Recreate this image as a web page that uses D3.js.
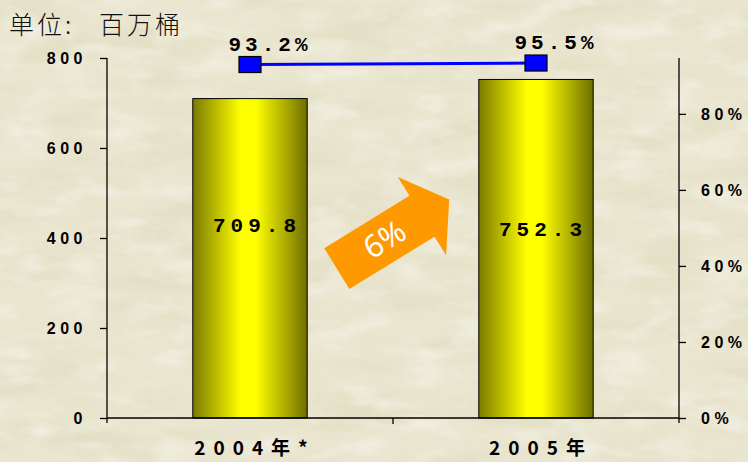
<!DOCTYPE html>
<html><head><meta charset="utf-8">
<script src="https://cdn.jsdelivr.net/npm/d3@7/dist/d3.min.js"></script>
<style>html,body{margin:0;padding:0;background:#e9e4cc;}svg{display:block;}</style>
</head><body>
<svg id="chart" width="748" height="462"></svg>
<script>
const categories = ["2004年*", "2005年"];
const barValues = [709.8, 752.3];
const barLabels = ["709.8", "752.3"];
const lineValues = [0.932, 0.955];
const lineLabels = ["93.2%", "95.5%"];
const leftTicks = [0, 200, 400, 600, 800];
const rightTicks = [0, 0.2, 0.4, 0.6, 0.8];
const growthLabel = "6%";
const unitTitle = ["单位:", "百万桶"];

const svg = d3.select("#chart");
const W = 748, H = 462;
const defs = svg.append("defs");

// parchment texture
const f = defs.append("filter").attr("id","paper").attr("x",0).attr("y",0).attr("width","100%").attr("height","100%");
f.append("feTurbulence").attr("type","fractalNoise").attr("baseFrequency","0.01 0.035").attr("numOctaves",5).attr("seed",11).attr("result","n");
f.append("feColorMatrix").attr("in","n").attr("type","matrix")
 .attr("values","0 0 0 0 0.72  0 0 0 0 0.70  0 0 0 0 0.50  2.2 0 0 0 -1.0");
const f2 = defs.append("filter").attr("id","paper2").attr("x",0).attr("y",0).attr("width","100%").attr("height","100%");
f2.append("feTurbulence").attr("type","fractalNoise").attr("baseFrequency","0.02 0.05").attr("numOctaves",4).attr("seed",3).attr("result","n");
f2.append("feColorMatrix").attr("in","n").attr("type","matrix")
 .attr("values","0 0 0 0 0.97  0 0 0 0 0.96  0 0 0 0 0.93  2.0 0 0 0 -0.95");
svg.append("rect").attr("width",W).attr("height",H).attr("fill","#e9e5cf");
svg.append("rect").attr("width",W).attr("height",H).attr("filter","url(#paper)").attr("opacity",0.6);
svg.append("rect").attr("width",W).attr("height",H).attr("filter","url(#paper2)").attr("opacity",0.6);

const grad = defs.append("linearGradient").attr("id","barGrad").attr("x1","0").attr("x2","1").attr("y1","0").attr("y2","0");
[[0,"#7a7a00"],[0.42,"#ffff00"],[0.55,"#ffff00"],[1,"#6e6e00"]].forEach(([o,c])=>grad.append("stop").attr("offset",o).attr("stop-color",c));

const x0 = 107, x1 = 679, yTop = 58, yBot = 418;
const x = d3.scaleBand().domain(categories).range([x0, x1]).paddingInner(0.6).paddingOuter(0.3);
const xc = d3.scaleBand().domain(categories).range([x0, x1]).padding(0);
const y = d3.scaleLinear().domain([0, 800]).range([yBot, yTop]);
const yR = d3.scaleLinear().domain([0, 0.947]).range([yBot, yTop]);
const yLine = d3.scaleLinear().domain([0.9, 1.0]).range([66.6, 60.1]);

// bars
svg.selectAll("rect.bar").data(barValues).join("rect").attr("class","bar")
 .attr("x",(d,i)=>x(categories[i])).attr("width",x.bandwidth())
 .attr("y",d=>y(d)).attr("height",d=>y(0)-y(d))
 .attr("fill","url(#barGrad)").attr("stroke","#000").attr("stroke-width",1);

// axes
const axisStyle = g => { g.selectAll("path,line").attr("stroke","#000").attr("stroke-width",1.3); g.select(".domain").remove(); };
const tickFont = sel => sel.attr("font-family","Liberation Sans, Arial").attr("font-weight","bold").attr("font-size",16).attr("letter-spacing","4.5px").attr("fill","#000");
const lAx = svg.append("g").attr("transform",`translate(${x0},0)`)
 .call(d3.axisLeft(y).tickValues(leftTicks).tickSize(7).tickFormat(d3.format("d")));
lAx.call(axisStyle);
lAx.selectAll("text").attr("x",-20).call(tickFont);
svg.append("line").attr("x1",x0).attr("x2",x0).attr("y1",yTop).attr("y2",yBot+5).attr("stroke","#000").attr("stroke-width",1.3);

const rAx = svg.append("g").attr("transform",`translate(${x1},0)`)
 .call(d3.axisRight(yR).tickValues(rightTicks).tickSize(7).tickFormat(d3.format(".0%")));
rAx.call(axisStyle);
rAx.selectAll("text").attr("x",22).call(tickFont);
svg.append("line").attr("x1",x1).attr("x2",x1).attr("y1",yTop).attr("y2",yBot+5).attr("stroke","#000").attr("stroke-width",1.3);

// x axis
svg.append("line").attr("x1",x0).attr("x2",x1).attr("y1",yBot).attr("y2",yBot).attr("stroke","#000").attr("stroke-width",1.3);
svg.selectAll("line.xt").data(categories.slice(1)).join("line").attr("class","xt")
 .attr("x1",d=>xc(d)).attr("x2",d=>xc(d)).attr("y1",yBot).attr("y2",yBot+6).attr("stroke","#000").attr("stroke-width",1.3);
svg.selectAll("text.xl").data(categories).join("text").attr("class","xl")
 .attr("x",d=>x(d)+x.bandwidth()/2+5).attr("y",455).attr("text-anchor","middle")
 .attr("font-family","Noto Sans CJK SC, Liberation Sans").attr("font-weight","bold").attr("font-size",19).attr("letter-spacing","8px")
 .attr("fill","#000").text(d=>d);

// bar labels
svg.selectAll("text.bl").data(barValues).join("text").attr("class","bl")
 .attr("x",(d,i)=>x(categories[i])+x.bandwidth()/2+7).attr("y",(d,i)=>y(430)+7+i*4).attr("text-anchor","middle")
 .attr("font-family","Liberation Mono, Courier New, monospace").attr("font-weight","bold").attr("font-size",21).attr("letter-spacing","5px")
 .attr("fill","#000").text((d,i)=>barLabels[i]);

// line + markers
const lx = (d,i)=>x(categories[i])+x.bandwidth()/2;
svg.append("path").datum(lineValues)
 .attr("d", d3.line().x(lx).y(d=>yLine(d)))
 .attr("fill","none").attr("stroke","#0000ff").attr("stroke-width",3);
svg.selectAll("rect.mk").data(lineValues).join("rect").attr("class","mk")
 .attr("x",(d,i)=>lx(d,i)-11).attr("y",d=>yLine(d)-8).attr("width",22).attr("height",16)
 .attr("fill","#0000ff").attr("stroke","#000").attr("stroke-width",1.2);
svg.selectAll("text.ll").data(lineValues).join("text").attr("class","ll")
 .attr("x",(d,i)=>lx(d,i)+20).attr("y",d=>yLine(d)-14).attr("text-anchor","middle")
 .attr("font-family","Liberation Mono, Courier New, monospace").attr("font-weight","bold").attr("font-size",21).attr("letter-spacing","4px")
 .attr("fill","#000").text((d,i)=>lineLabels[i]);

// title
const tt = svg.append("text").attr("y",34).attr("font-family","Noto Sans CJK SC").attr("font-weight",300)
 .attr("font-size",25).attr("letter-spacing","3px").attr("fill","#111");
tt.append("tspan").attr("x",9).text(unitTitle[0]);
tt.append("tspan").attr("x",99).text(unitTitle[1]);

// growth arrow (annotation between the bars)
const ax = (x(categories[0])+x.bandwidth() + x(categories[1]))/2;
const ag = svg.append("g").attr("transform",`translate(${ax},${234}) rotate(-31.6)`);
ag.append("polygon").attr("points","-66,-24 34,-24 34,-46 66,0 34,46 34,24 -66,24").attr("fill","#ff9900");
ag.append("text").attr("x",-10).attr("y",11).attr("text-anchor","middle").attr("font-family","Noto Sans, DejaVu Sans").attr("font-size",31)
 .attr("fill","#fff").text(growthLabel);
</script>
</body></html>
